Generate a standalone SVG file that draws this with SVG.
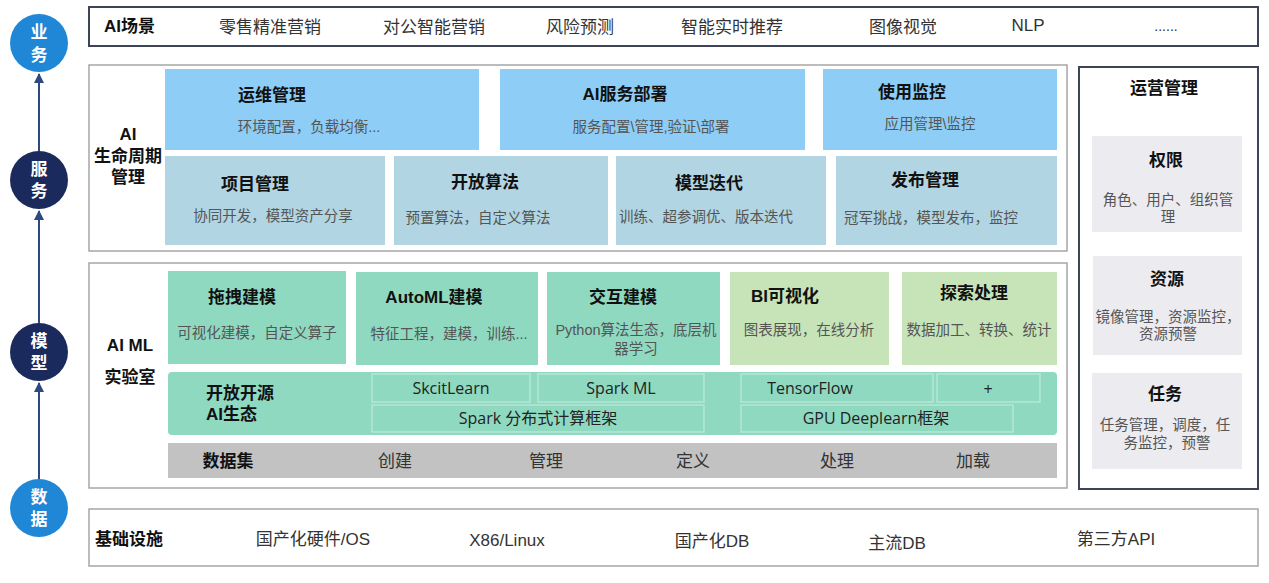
<svg xmlns="http://www.w3.org/2000/svg" width="1269" height="583" viewBox="0 0 1269 583">
<defs>
<style>
text{font-family:"Liberation Sans","Noto Sans CJK SC",sans-serif;dominant-baseline:central}
.c{text-anchor:middle}
.t{font-size:17px;font-weight:bold;fill:#111}
.s{font-size:14.5px;fill:#555}
.top{font-size:17px;fill:#333}
.cw{font-size:17px;font-weight:bold;fill:#fff;text-anchor:middle}
.fw{font-family:"Open Sans","Noto Sans CJK SC",sans-serif;font-size:16px;fill:#222;text-anchor:middle}
.blue1{fill:#8dcdf6}
.blue2{fill:#b1d5e2}
.grn{fill:#8fd9c1}
.ylg{fill:#c7e4b9}
.cell{fill:#8fd9c1;stroke:#b4e8d6;stroke-width:1.5}
.frame{fill:#fff;stroke:#a6a6a6;stroke-width:1.5}
.dframe{fill:#fff;stroke:#3d4455;stroke-width:2}
.gbox{fill:#ebebf0}
</style>
<marker id="ah" viewBox="0 0 10 10" refX="9" refY="5" markerWidth="5" markerHeight="5" orient="auto">
<path d="M0,0 L10,5 L0,10 z" fill="#2c4a80"/>
</marker>
</defs>
<rect width="1269" height="583" fill="#fff"/>

<g id="connectors" stroke="#2c4a80" stroke-width="2" fill="none">
<line x1="39" y1="479" x2="39" y2="383" marker-end="url(#ah)"/>
<line x1="39" y1="323" x2="39" y2="211" marker-end="url(#ah)"/>
<line x1="39" y1="151" x2="39" y2="74" marker-end="url(#ah)"/>
</g>

<g id="n-yewu"><circle cx="39" cy="43" r="29" fill="#1f87d6"/><text class="cw" x="39" y="32">业</text><text class="cw" x="39" y="55">务</text></g>
<g id="n-fuwu"><circle cx="39" cy="180" r="29" fill="#1b2a5c"/><text class="cw" x="39" y="169">服</text><text class="cw" x="39" y="191">务</text></g>
<g id="n-moxing"><circle cx="39" cy="352" r="29" fill="#1b2a5c"/><text class="cw" x="39" y="341">模</text><text class="cw" x="39" y="363">型</text></g>
<g id="n-shuju"><circle cx="39" cy="508" r="29" fill="#1f87d6"/><text class="cw" x="39" y="497">数</text><text class="cw" x="39" y="519">据</text></g>

<g id="scene">
<rect class="dframe" x="89" y="7" width="1169" height="39"/>
<text class="t" x="104" y="26">AI场景</text>
<text class="top c" x="270" y="27">零售精准营销</text>
<text class="top c" x="434" y="27">对公智能营销</text>
<text class="top c" x="580" y="27">风险预测</text>
<text class="top c" x="732" y="27">智能实时推荐</text>
<text class="top c" x="903" y="27">图像视觉</text>
<text class="top c" x="1028" y="25">NLP</text>
<text class="top c" x="1166" y="26" style="font-size:14px">......</text>
</g>

<g id="lifecycle">
<rect class="frame" x="89" y="65" width="978" height="186"/>
<text class="t c" x="128" y="134">AI</text>
<text class="t c" x="128" y="156">生命周期</text>
<text class="t c" x="128" y="177">管理</text>
</g>
<g id="n-yunwei"><rect class="blue1" x="165" y="69" width="314" height="81"/><text class="t c" x="272" y="95">运维管理</text><text class="s c" x="309" y="127">环境配置，负载均衡...</text></g>
<g id="n-aifuwu"><rect class="blue1" x="500" y="69" width="305" height="81"/><text class="t c" x="625" y="94">AI服务部署</text><text class="s c" x="651" y="127">服务配置\管理,验证\部署</text></g>
<g id="n-shiyong"><rect class="blue1" x="823" y="69" width="234" height="81"/><text class="t c" x="912" y="92">使用监控</text><text class="s c" x="930" y="124">应用管理\监控</text></g>
<g id="n-xiangmu"><rect class="blue2" x="165" y="156" width="220" height="89"/><text class="t c" x="255" y="184">项目管理</text><text class="s c" x="273" y="216">协同开发，模型资产分享</text></g>
<g id="n-kaifang"><rect class="blue2" x="394" y="156" width="214" height="89"/><text class="t c" x="485" y="182">开放算法</text><text class="s c" x="478" y="218">预置算法，自定义算法</text></g>
<g id="n-diedai"><rect class="blue2" x="616" y="156" width="210" height="89"/><text class="t c" x="709" y="183">模型迭代</text><text class="s c" x="706" y="217">训练、超参调优、版本迭代</text></g>
<g id="n-fabu"><rect class="blue2" x="836" y="156" width="221" height="89"/><text class="t c" x="925" y="180">发布管理</text><text class="s c" x="931" y="218">冠军挑战，模型发布，监控</text></g>

<g id="mllab">
<rect class="frame" x="89" y="263" width="978" height="225"/>
<text class="t c" x="130" y="345">AI ML</text>
<text class="t c" x="130" y="377">实验室</text>
</g>
<g id="n-tuozhuai"><rect class="grn" x="168" y="271" width="178" height="93"/><text class="t c" x="242" y="297">拖拽建模</text><text class="s c" x="257" y="333">可视化建模，自定义算子</text></g>
<g id="n-automl"><rect class="grn" x="356" y="272" width="182" height="93"/><text class="t c" x="434" y="297">AutoML建模</text><text class="s c" x="449" y="334">特征工程，建模，训练...</text></g>
<g id="n-jiaohu"><rect class="grn" x="547" y="272" width="173" height="93"/><text class="t c" x="623" y="297">交互建模</text><text class="s c" x="636" y="330">Python算法生态，底层机</text><text class="s c" x="636" y="349">器学习</text></g>
<g id="n-bi"><rect class="ylg" x="730" y="272" width="159" height="93"/><text class="t c" x="785" y="296">BI可视化</text><text class="s c" x="809" y="330">图表展现，在线分析</text></g>
<g id="n-tansuo"><rect class="ylg" x="902" y="272" width="155" height="93"/><text class="t c" x="974" y="293">探索处理</text><text class="s c" x="979" y="330">数据加工、转换、统计</text></g>

<g id="n-opensource">
<rect class="grn" x="168" y="372" width="889" height="63" rx="4"/>
<text class="t" x="206" y="393">开放开源</text>
<text class="t" x="206" y="414">AI生态</text>
<rect class="cell" x="372" y="374" width="158" height="28"/><text class="fw" x="451" y="388">SkcitLearn</text>
<rect class="cell" x="538" y="374" width="166" height="28"/><text class="fw" x="621" y="388">Spark ML</text>
<rect class="cell" x="741" y="374" width="192" height="28"/><text class="fw" x="810" y="388">TensorFlow</text>
<rect class="cell" x="937" y="374" width="103" height="28"/><text class="fw" x="988" y="389">+</text>
<rect class="cell" x="372" y="405" width="332" height="27"/><text class="fw" x="538" y="418">Spark 分布式计算框架</text>
<rect class="cell" x="741" y="405" width="272" height="27"/><text class="fw" x="876" y="418">GPU Deeplearn框架</text>
</g>

<g id="n-dataset">
<rect x="168" y="443" width="889" height="35" fill="#c2c2c2"/>
<text class="t c" x="228" y="461">数据集</text>
<text class="top c" x="395" y="461">创建</text>
<text class="top c" x="546" y="461">管理</text>
<text class="top c" x="693" y="461">定义</text>
<text class="top c" x="837" y="461">处理</text>
<text class="top c" x="973" y="461">加载</text>
</g>

<g id="ops">
<rect class="dframe" x="1079" y="67" width="179" height="422"/>
<text class="t c" x="1164" y="88">运营管理</text>
</g>
<g id="n-quanxian"><rect class="gbox" x="1092" y="136" width="150" height="96"/><text class="t c" x="1166" y="160">权限</text><text class="s c" x="1168" y="200">角色、用户、组织管</text><text class="s c" x="1168" y="217">理</text></g>
<g id="n-ziyuan"><rect class="gbox" x="1093" y="256" width="149" height="99"/><text class="t c" x="1167" y="279">资源</text><text class="s c" x="1168" y="317">镜像管理，资源监控，</text><text class="s c" x="1168" y="334">资源预警</text></g>
<g id="n-renwu"><rect class="gbox" x="1092" y="373" width="150" height="96"/><text class="t c" x="1165" y="394">任务</text><text class="s c" x="1165" y="425">任务管理，调度，任</text><text class="s c" x="1167" y="443">务监控，预警</text></g>

<g id="infra">
<rect class="frame" x="89" y="509" width="1169" height="57"/>
<text class="t c" x="129" y="539">基础设施</text>
<text class="top c" x="313" y="539">国产化硬件/OS</text>
<text class="top c" x="507" y="540">X86/Linux</text>
<text class="top c" x="712" y="541">国产化DB</text>
<text class="top c" x="897" y="543">主流DB</text>
<text class="top c" x="1116" y="539">第三方API</text>
</g>
</svg>
